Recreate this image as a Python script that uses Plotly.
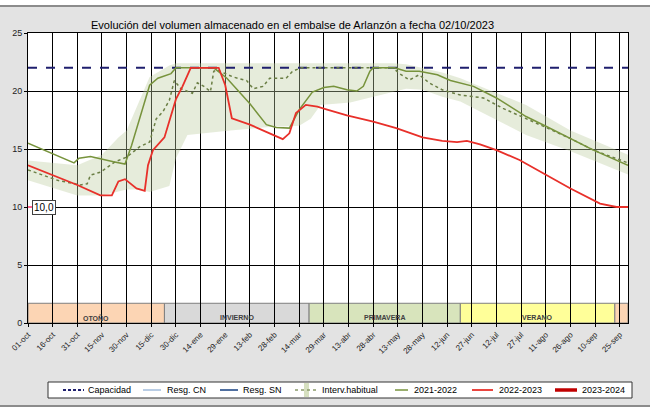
import plotly.graph_objects as go

# ---------------- data ----------------
tick_labels = ["01-oct", "16-oct", "31-oct", "15-nov", "30-nov", "15-dic", "30-dic",
               "14-ene", "29-ene", "13-feb", "28-feb", "14-mar", "29-mar", "13-abr",
               "28-abr", "13-may", "28-may", "12-jun", "27-jun", "12-jul", "27-jul",
               "11-ago", "26-ago", "10-sep", "25-sep"]
tick_days = [i * 15 for i in range(len(tick_labels))]

capacidad = 22.0

# 2022-2023 (day index since 01-oct)
s2223_days = [0, 15, 30, 44, 51, 55, 59, 66, 71, 73, 76, 83, 86, 90, 94, 99, 116, 120, 124,
              135, 147, 155, 159, 163, 169, 176, 182, 194, 210, 224, 240, 252, 261, 267,
              275, 285, 299, 315, 330, 348, 358, 365]
s2223_vals = [13.6, 12.75, 11.9, 11.0, 11.0, 12.2, 12.4, 11.6, 11.4, 13.6, 14.9, 16.0, 17.4,
              19.3, 20.4, 22.0, 22.0, 20.5, 17.65, 17.1, 16.35, 15.85, 16.35, 18.1, 18.8,
              18.65, 18.4, 17.9, 17.35, 16.8, 16.0, 15.7, 15.6, 15.7, 15.4, 14.9, 14.05,
              12.75, 11.6, 10.3, 10.0, 10.0]

# 2021-2022
s2122_days = [0, 28, 31, 38, 52, 59, 63, 69, 74, 79, 87, 90, 113, 121, 135, 145, 151, 159,
              165, 173, 180, 186, 194, 200, 204, 208, 210, 223, 230, 238, 249, 257, 263,
              271, 285, 303, 316, 330, 344, 365]
s2122_vals = [15.5, 13.8, 14.2, 14.35, 13.9, 13.7, 15.3, 18.2, 20.5, 21.1, 21.5, 22.0, 22.0,
              21.1, 18.9, 17.1, 16.85, 16.8, 18.4, 19.9, 20.3, 20.4, 20.1, 20.0, 20.4, 21.7,
              22.0, 22.0, 21.7, 21.7, 21.4, 20.9, 20.7, 20.4, 19.4, 17.8, 16.9, 15.9, 14.9,
              13.6]

# 2023-2024 (only first value)
s2324_days = [0]
s2324_vals = [10.0]

# Intervalo habitual: median and band
med_days = [0, 18, 32, 36, 38, 44, 50, 53, 60, 68, 74, 78, 82, 86, 89, 93, 100, 103, 107,
            111, 113, 115, 125, 133, 137, 143, 147, 157, 161, 166, 222, 226, 232, 238, 244,
            252, 263, 277, 289, 303, 316, 330, 344, 365]
med_vals = [13.2, 12.3, 11.9, 12.0, 12.75, 13.0, 13.6, 13.9, 14.3, 15.2, 15.6, 17.6, 18.2,
            19.2, 20.9, 20.2, 19.8, 20.7, 20.4, 19.95, 21.7, 21.8, 21.2, 20.9, 20.2, 20.4,
            21.1, 21.1, 21.7, 22.0, 22.0, 21.5, 20.95, 21.4, 20.7, 20.1, 19.65, 19.4, 18.5,
            17.65, 16.8, 15.9, 14.9, 13.8]
band_days = [0, 30, 45, 55, 60, 68, 74, 86, 90, 97, 123, 147, 165, 172, 178, 196, 222, 230,
             240, 252, 263, 303, 330, 365]
band_upper = [14.0, 13.6, 14.5, 16.0, 16.6, 19.2, 21.2, 22.2, 22.4, 22.4, 22.4, 22.4, 22.4,
              22.4, 22.4, 22.4, 22.4, 22.3, 22.0, 21.6, 21.1, 18.8, 16.6, 14.5]
band_lower = [12.3, 11.0, 11.0, 11.3, 11.5, 11.5, 11.3, 11.8, 14.2, 16.2, 16.6, 16.9, 17.0,
              17.6, 18.8, 19.0, 19.9, 20.2, 20.1, 19.5, 19.1, 16.2, 14.8, 12.8]

# Seasons
season_names = ["OTOÑO", "INVIERNO", "PRIMAVERA", "VERANO", ""]
season_start = [0, 83, 171, 263, 357]
season_end = [83, 171, 263, 357, 365]
season_colors = ["#fcd5b4", "#d9d9d9", "#d8e4bc", "#ffff99", "#fcd5b4"]
season_height = 1.7

# Legend entries (drawn by hand below the chart)
legend_names = ["Capacidad", "Resg. CN", "Resg. SN", "Interv.habitual",
                "2021-2022", "2022-2023", "2023-2024"]

x_range = [0, 365]

# ---------------- figure ----------------
W, H = 650, 413
ML, MR, MT, MB = 28, 22, 33, 90
PW, PH = W - ML - MR, H - MT - MB


def px_x(px):
    return (px - ML) / PW


def px_y(py):
    return (H - MB - py) / PH


fig = go.Figure()

# band
fig.add_trace(go.Scatter(x=band_days, y=band_lower, mode="lines", line=dict(width=0),
                         showlegend=False, hoverinfo="skip"))
fig.add_trace(go.Scatter(x=band_days, y=band_upper, mode="lines", line=dict(width=0),
                         fill="tonexty", fillcolor="rgba(190,205,160,0.38)",
                         showlegend=False, hoverinfo="skip"))

styles = {
    "Capacidad": dict(color="#1f1f6e", width=2, dash="dash"),
    "Resg. CN": dict(color="#b9cde5", width=2),
    "Resg. SN": dict(color="#4f6fa0", width=2),
    "Interv.habitual": dict(color="#6b7f45", width=1.5, dash="dot"),
    "2021-2022": dict(color="#77933c", width=1.5),
    "2022-2023": dict(color="#e8302a", width=1.8),
    "2023-2024": dict(color="#c00000", width=3.5),
}

fig.add_trace(go.Scatter(x=x_range, y=[capacidad, capacidad], mode="lines", name="Capacidad",
                         line=styles["Capacidad"]))
fig.add_trace(go.Scatter(x=med_days, y=med_vals, mode="lines", name="Interv.habitual",
                         line=styles["Interv.habitual"]))
fig.add_trace(go.Scatter(x=s2122_days, y=s2122_vals, mode="lines", name="2021-2022",
                         line=styles["2021-2022"]))
fig.add_trace(go.Scatter(x=s2223_days, y=s2223_vals, mode="lines", name="2022-2023",
                         line=styles["2022-2023"]))
fig.add_trace(go.Scatter(x=s2324_days, y=s2324_vals, mode="markers", name="2023-2024",
                         marker=dict(symbol="line-ew-open", size=8,
                                     line=dict(color="#e8302a", width=2))))

shapes = []
annotations = []
for name, a, b, c in zip(season_names, season_start, season_end, season_colors):
    shapes.append(dict(type="rect", xref="x", yref="y", x0=a, x1=b, y0=0, y1=season_height,
                       fillcolor=c, line=dict(color="#7f7f7f", width=1), layer="below"))
    if name:
        annotations.append(dict(x=(a + b) / 2, y=0.45, xref="x", yref="y",
                                text="<b>" + name + "</b>", showarrow=False,
                                font=dict(size=7, color="#404040",
                                          family="Liberation Sans Narrow, Liberation Sans")))

# outer frame (white strips top/bottom with grey lines)
shapes.append(dict(type="rect", xref="paper", yref="paper", x0=px_x(-5), x1=px_x(660),
                   y0=px_y(6), y1=px_y(-5), fillcolor="white", line=dict(width=0), layer="below"))
shapes.append(dict(type="line", xref="paper", yref="paper", x0=px_x(-5), x1=px_x(660),
                   y0=px_y(6), y1=px_y(6), line=dict(color="#8c8c8c", width=2)))
shapes.append(dict(type="rect", xref="paper", yref="paper", x0=px_x(-5), x1=px_x(660),
                   y0=px_y(420), y1=px_y(406), fillcolor="white", line=dict(width=0), layer="below"))
shapes.append(dict(type="line", xref="paper", yref="paper", x0=px_x(-5), x1=px_x(660),
                   y0=px_y(406), y1=px_y(406), line=dict(color="#8c8c8c", width=2)))

# legend box
shapes.append(dict(type="rect", xref="paper", yref="paper", x0=px_x(48), x1=px_x(632),
                   y0=px_y(398), y1=px_y(382), fillcolor="white",
                   line=dict(color="#333333", width=1)))
leg_sym = [(63, 84), (143, 161), (220, 238), (295, 318), (395, 408), (472, 493), (555, 577)]
leg_txt = [86, 165, 241, 320, 412, 497, 580]
ly = px_y(390)
for name, (s0, s1), tx in zip(legend_names, leg_sym, leg_txt):
    st = dict(styles[name])
    if name == "Interv.habitual":
        st = dict(color="#8a9a6a", width=1.5, dash="dot")
        shapes.append(dict(type="rect", xref="paper", yref="paper", x0=px_x(304), x1=px_x(309),
                           y0=px_y(397), y1=px_y(383), fillcolor="#d6e0c0",
                           line=dict(width=0)))
    if name == "Capacidad":
        st["dash"] = "3px,2px"
    shapes.append(dict(type="line", xref="paper", yref="paper", x0=px_x(s0), x1=px_x(s1),
                       y0=ly, y1=ly, line=st))
    annotations.append(dict(x=px_x(tx), y=ly, xref="paper", yref="paper", text=name,
                            xanchor="left", yanchor="middle", showarrow=False,
                            font=dict(size=9, color="black", family="Liberation Sans")))

annotations.append(dict(x=px_x(292), y=px_y(25), xref="paper", yref="paper",
                        text="Evolución del volumen almacenado en el embalse de Arlanzón a fecha 02/10/2023",
                        showarrow=False, yanchor="middle",
                        font=dict(size=11, color="black", family="Liberation Sans")))
annotations.append(dict(x=s2324_days[0], y=s2324_vals[0], xref="x", yref="y",
                        text="10,0", showarrow=False, xanchor="left", xshift=4,
                        bgcolor="white", bordercolor="#404040", borderwidth=1, borderpad=1,
                        font=dict(size=10, color="black", family="Liberation Sans")))

fig.update_layout(
    width=W, height=H,
    margin=dict(l=ML, r=MR, t=MT, b=MB, autoexpand=False),
    paper_bgcolor="#e3e3e3",
    plot_bgcolor="white",
    font=dict(family="Liberation Sans", size=9, color="#222"),
    shapes=shapes,
    annotations=annotations,
    showlegend=False,
)
fig.update_xaxes(range=x_range, tickvals=tick_days, ticktext=tick_labels, tickangle=-45,
                 showgrid=True, gridcolor="black", gridwidth=1,
                 showline=True, linecolor="black", linewidth=1, mirror=True,
                 ticks="outside", ticklen=3, tickcolor="black",
                 tickfont=dict(size=8, color="#222"), zeroline=False)
fig.update_yaxes(range=[0, 25], tickvals=[0, 5, 10, 15, 20, 25],
                 showgrid=True, gridcolor="black", gridwidth=1,
                 showline=True, linecolor="black", linewidth=1, mirror=True,
                 ticks="outside", ticklen=3, tickcolor="black",
                 tickfont=dict(size=9, color="#222"), zeroline=False)

fig.write_html("out.html")
